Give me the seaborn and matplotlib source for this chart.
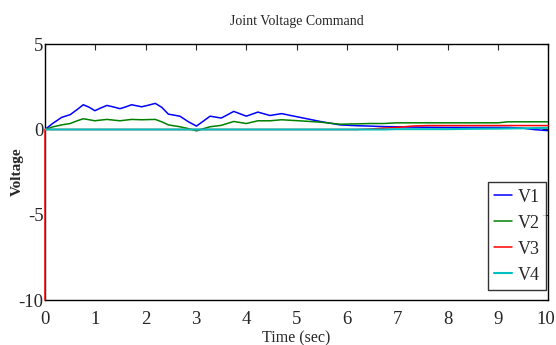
import matplotlib
matplotlib.use("Agg")
import matplotlib.pyplot as plt
import matplotlib.transforms as mtransforms
import seaborn as sns
import pandas as pd

time = [0, 0, 0.15, 0.33, 0.5, 0.63, 0.76, 0.88, 0.99, 1.1, 1.23, 1.36, 1.49, 1.6, 1.72,
        1.92, 2.05, 2.19, 2.32, 2.45, 2.68, 2.85, 3.01, 3.15, 3.28, 3.5, 3.62, 3.75, 4.0,
        4.23, 4.47, 4.7, 5.05, 5.47, 5.86, 6.2, 6.46, 6.73, 6.98, 7.3, 7.6, 8.0, 8.5,
        9.0, 9.2, 9.5, 9.7, 10.0]
v1 = [0, 0, 0.35, 0.71, 0.87, 1.15, 1.45, 1.3, 1.1, 1.25, 1.41, 1.32, 1.22, 1.32, 1.45,
      1.33, 1.42, 1.53, 1.3, 0.9, 0.78, 0.45, 0.2, 0.5, 0.78, 0.67, 0.85, 1.06, 0.78,
      1.02, 0.82, 0.93, 0.72, 0.47, 0.27, 0.22, 0.2, 0.17, 0.16, 0.14, 0.13, 0.12, 0.12,
      0.12, 0.12, 0.08, 0.0, -0.07]
v2 = [0, 0, 0.15, 0.27, 0.35, 0.5, 0.63, 0.57, 0.51, 0.55, 0.59, 0.55, 0.51, 0.55, 0.59,
      0.57, 0.58, 0.59, 0.45, 0.27, 0.16, 0.05, -0.08, 0.05, 0.16, 0.24, 0.35, 0.47, 0.35,
      0.51, 0.51, 0.57, 0.51, 0.43, 0.31, 0.33, 0.35, 0.35, 0.39, 0.39, 0.39, 0.39, 0.39,
      0.39, 0.45, 0.45, 0.45, 0.45]
v3 = [-10] + [0] * 35 + [0.03, 0.08, 0.12, 0.2, 0.23] + [0.23] * 7
v4 = [0] * 38 + [0.02, 0.02, 0.02, 0.02, 0.04, 0.05, 0.06, 0.07, 0.08, 0.1]

series_names = ["V1", "V2", "V3", "V4"]
series_vals = [v1, v2, v3, v4]
colors = ["#0000ff", "#008000", "#ff0000", "#00bfbf"]
widths = [1.1, 1.1, 1.1, 1.5]

title = "Joint Voltage Command"
xlabel = "Time (sec)"
ylabel = "Voltage"
xticks = list(range(0, 11))
yticks = [5, 0, -5, -10]

sns.set_style("white")
plt.rcParams["font.family"] = ["Liberation Serif", "DejaVu Serif"]
plt.rcParams["axes.unicode_minus"] = False

fig = plt.figure(figsize=(5.56, 3.45), dpi=100)
ax = fig.add_axes([0.081, 0.13, 0.905, 0.742])

for i, (name, vals, c, w) in enumerate(zip(series_names, series_vals, colors, widths)):
    df = pd.DataFrame({"t": time, "v": vals})
    sns.lineplot(data=df, x="t", y="v", ax=ax, color=c, linewidth=w,
                 sort=False, estimator=None, label=name, zorder=3 + i,
                 clip_on=(name != "V3"))

ax.set_xlim(0, 10)
ax.set_ylim(-10, 5)
ax.set_xticks(xticks)
ax.set_yticks(yticks)
ax.tick_params(direction="in", top=True, right=True, length=4, width=0.8,
               labelsize=13.5)
ax.tick_params(axis="x", pad=8)
ax.tick_params(axis="y", pad=1)
for s in ax.spines.values():
    s.set_color("black")
    s.set_linewidth(1.0)
ax.set_title(title, fontsize=10, pad=14)
ax.set_xlabel(xlabel, fontsize=11.5)
ax.xaxis.set_label_coords(0.5, -0.118)
ax.set_ylabel(ylabel, fontsize=11, fontweight="bold")
ax.yaxis.set_label_coords(-0.042, 0.5)

# nudge the last x tick label so it stays inside the canvas
last = ax.get_xticklabels()[-1]
last.set_transform(last.get_transform() +
                   mtransforms.ScaledTranslation(-2 / 72, 0, fig.dpi_scale_trans))

leg = ax.legend(loc="lower right", bbox_to_anchor=(0.996, 0.04), fancybox=False,
                frameon=True, edgecolor="black", fontsize=13, handlelength=1.0,
                handletextpad=0.3, borderpad=0.35, labelspacing=0.5, borderaxespad=0)
leg.get_frame().set_linewidth(1.0)
leg.set_zorder(10)

fig.savefig("out.png", dpi=100)
